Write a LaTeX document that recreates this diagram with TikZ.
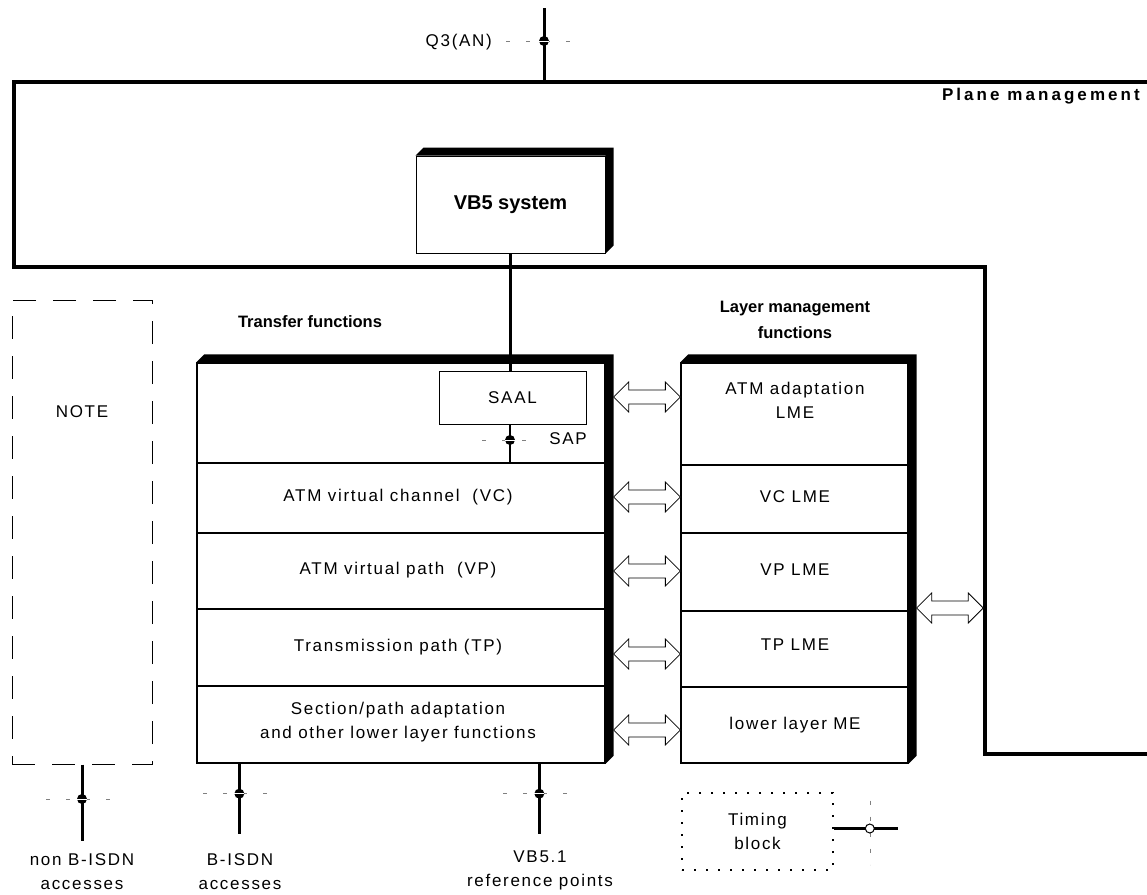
\documentclass[tikz,border=0pt]{standalone}
\usepackage{fontspec}
\setmainfont{Liberation Sans}
\newfontfamily\spacedfont[LetterSpace=10]{Liberation Sans}
\newfontfamily\spacedbold[LetterSpace=18]{Liberation Sans Bold}
\usetikzlibrary{calc}
\newcommand{\boxshadow}[4]{\fill (#1) -- ++(#4,-#4) -| ($(#3)+(#4,-#4)$) -- (#3) -- (#2) -- cycle;}
\newcommand{\refdot}[3]{%
  \draw[dashmark] ($(#1)+(-#2,0)$) -- ($(#1)+(#3,0)$);
  \fill (#1) circle (5);
  \draw[white, line width=0.7pt] ($(#1)+(-5,0)$) -- ($(#1)+(5,0)$);}
\newcommand{\darr}[2]{%
  \draw[fill=white, line width=0.8pt] let \p1=#1, \p2=#2 in
    (\x1,\y1) -- (\x1+15pt,\y1+15pt) -- (\x1+15pt,\y1+7pt) -- (\x2-15pt,\y1+7pt) -- (\x2-15pt,\y1+15pt)
    -- (\x2,\y1) -- (\x2-15pt,\y1-15pt) -- (\x2-15pt,\y1-7pt) -- (\x1+15pt,\y1-7pt) -- (\x1+15pt,\y1-15pt) -- cycle;}
\begin{document}
\begin{tikzpicture}[x=1pt,y=-1pt,
  txt/.style={font=\spacedfont\fontsize{17}{24}\selectfont, align=center, inner sep=0pt},
  hd/.style={font=\bfseries\fontsize{16.5}{26}\selectfont, align=center, inner sep=0pt},
  tfrow/.style={draw, line width=1.3pt, minimum width=408pt, inner sep=0pt},
  lmrow/.style={draw, line width=1.3pt, minimum width=227pt, inner sep=0pt},
  plane/.style={line width=3.5pt},
  refline/.style={line width=3pt},
  dashmark/.style={gray, line width=0.6pt, dash pattern=on 4pt off 16pt},
]
\useasboundingbox (0,0) rectangle (1147,894);

% plane management
\coordinate (p1) at (14,82);
\coordinate (p2) at (1147,82);
\coordinate (p3) at (14,267);
\coordinate (p4) at (985,267);
\coordinate (p5) at (985,754);
\coordinate (p6) at (1147,754);
\draw[plane, line join=miter] (p2) -- (p1) -- (p3) -- (p4) -- (p5) -- (p6);
\node[font=\spacedbold\fontsize{17}{20}\selectfont, inner sep=0pt, anchor=east] (pmlbl) at (1140,96) {Plane management};

% Q3
\coordinate (q3top) at (544,8);
\coordinate (q3dot) at (544,41);
\draw[refline] (q3top) -- (q3top |- p1);
\refdot{q3dot}{38}{28}
\node[txt, anchor=east] (q3lbl) at (492,42) {Q3(AN)};

% VB5 system
\node[draw, line width=1pt, minimum width=189pt, minimum height=97pt, font=\bfseries\fontsize{20}{24}\selectfont] (vb5) at (510.5,204.5) {VB5 system};
\boxshadow{vb5.north west}{vb5.north east}{vb5.south east}{8}

% transfer functions
\node[hd] (tfh) at (310,322) {Transfer functions};
\node[tfrow, minimum height=100pt] (t1) at (401,413) {};
\node[tfrow, minimum height=70pt] (t2) at (401,498) {};
\node[tfrow, minimum height=76pt] (t3) at (401,571) {};
\node[tfrow, minimum height=77pt] (t4) at (401,647.5) {};
\node[tfrow, minimum height=77pt] (t5) at (401,724.5) {};
\boxshadow{t1.north west}{t1.north east}{t5.south east}{8}
\node[txt] (t2l) at (398,497) {ATM virtual channel\ \ (VC)};
\node[txt] (t3l) at (398,570) {ATM virtual path\ \ (VP)};
\node[txt] (t4l) at (398,647) {Transmission path (TP)};
\node[txt] (t5l) at (398,722) {Section/path adaptation\\and other lower layer functions};

% SAAL
\node[draw, line width=1pt, minimum width=147pt, minimum height=53pt, txt] (saal) at (512.5,397.5) {SAAL};
\draw[line width=2.2pt] (vb5.south) -- (vb5.south |- saal.north);
\coordinate (sapdot) at (510,440);
\draw[line width=2.5pt] (saal.south -| sapdot) -- (sapdot |- t1.south);
\refdot{sapdot}{28}{16}
\node[txt] (sap) at (568,439) {SAP};

% layer management
\node[hd] (lmh) at (795,320) {Layer management\\functions};
\node[lmrow, minimum height=102pt] (l1) at (794.5,414) {};
\node[lmrow, minimum height=68pt] (l2) at (794.5,499) {};
\node[lmrow, minimum height=78pt] (l3) at (794.5,572) {};
\node[lmrow, minimum height=76pt] (l4) at (794.5,649) {};
\node[lmrow, minimum height=76pt] (l5) at (794.5,725) {};
\boxshadow{l1.north west}{l1.north east}{l5.south east}{8}
\node[txt] (l1l) at (795,400) {ATM adaptation\\LME};
\node[txt] (l2l) at (795,497) {VC LME};
\node[txt] (l3l) at (795,570) {VP LME};
\node[txt] (l4l) at (795,645) {TP LME};
\node[txt] (l5l) at (795,725) {lower layer ME};

% double arrows
\darr{($(t1.east)+(8,-16)$)}{(l1.west)}
\darr{($(t2.east)+(8,-1)$)}{(l2.west)}
\darr{($(t3.east)+(8,0)$)}{(l3.west)}
\darr{($(t4.east)+(8,6.5)$)}{(l4.west)}
\darr{($(t5.east)+(8,5.5)$)}{(l5.west)}
\darr{($(l3.east)+(8,36)$)}{($(p4)+(-1.75,0)$)}

% NOTE
\node[draw, line width=1pt, dash pattern=on 23pt off 17pt, minimum width=140pt, minimum height=464pt, txt] (note) at (82,532) {};
\node[txt] (notel) at (82,412) {NOTE};

% access lines
\coordinate (nbdot) at (82,799);
\draw[refline] (note.south) -- ++(0,76) coordinate (nbend);
\refdot{nbdot}{36}{30}
\node[txt] (nbl) at (82,872) {non B-ISDN\\accesses};

\coordinate (bis) at ($(t5.south west)+(43,0)$);
\draw[refline] (bis) -- ++(0,70) coordinate (bisend);
\coordinate (bisdot) at ($(bis)+(0,30)$);
\refdot{bisdot}{36}{30}
\node[txt] (bisl) at (240,872) {B-ISDN\\accesses};

\coordinate (vbr) at ($(t5.south west)+(343,0)$);
\draw[refline] (vbr) -- ++(0,70) coordinate (vbrend);
\coordinate (vbrdot) at ($(vbr)+(0,30)$);
\refdot{vbrdot}{36}{30}
\node[txt] (vbrl) at (540,870) {VB5.1\\reference points};

% timing block
\node[draw, line width=1.6pt, dash pattern=on 2pt off 10pt, minimum width=151pt, minimum height=77pt, txt] (timing) at (757.5,831.5) {Timing\\block};
\coordinate (tdot) at ($(timing.east)+(36,-3)$);
\draw[gray, line width=0.6pt, dash pattern=on 4pt off 12pt] ($(tdot)+(0,-28)$) -- ($(tdot)+(0,36)$);
\draw[line width=3pt] ($(timing.east)+(0,-3)$) -- ++(64,0) coordinate (tend);
\draw[fill=white, line width=1pt] (tdot) circle (4.5);
\end{tikzpicture}
\end{document}
